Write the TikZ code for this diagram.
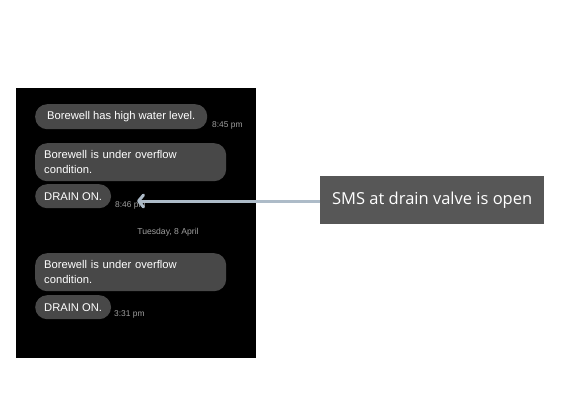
\documentclass[tikz,border=0pt]{standalone}
\usepackage{fontspec}
\setmainfont{Liberation Sans}
\newfontfamily\calloutfont{Open Sans}
\usetikzlibrary{arrows.meta}
\definecolor{bubblegray}{HTML}{484848}
\definecolor{timegray}{HTML}{A0A0A0}
\definecolor{calloutgray}{HTML}{575757}
\definecolor{arrowblue}{HTML}{ADBBC8}
\tikzset{
  bubble/.style={fill=bubblegray, rounded corners=12pt, anchor=north west, inner xsep=9pt, inner ysep=0pt,
    align=left, text=white, font=\fontsize{11.2}{15}\selectfont},
  timelbl/.style={anchor=base west, text=timegray, inner sep=0pt, font=\fontsize{8.4}{9}\selectfont},
  datelbl/.style={anchor=base, text=timegray, inner sep=0pt, font=\fontsize{8.6}{9}\selectfont},
  callout/.style={fill=calloutgray, text=white, anchor=north west, minimum width=224pt, minimum height=48pt,
    inner sep=0pt, font=\calloutfont\fontsize{16.5}{19}\selectfont},
  pointer/.style={draw=arrowblue, line width=3pt, -{Straight Barb[length=5pt,width=12pt,round]}}
}
\begin{document}
\begin{tikzpicture}[x=1pt,y=-1pt]
\useasboundingbox (0,0) rectangle (576,416);
\fill[white] (0,0) rectangle (576,416);
\node[fill=black, anchor=north west, minimum width=240pt, minimum height=270pt, inner sep=0pt] (panel) at (16,88) {};
\node[bubble, minimum width=172pt, minimum height=25pt] (b1) at (35,104) {Borewell has high water level.};
\node[timelbl] (t1) at (212,127) {8:45 pm};
\node[bubble, text width=173pt, minimum height=38pt] (b2) at (35,143) {Borewell is under overflow\\condition.};
\node[bubble, minimum width=75pt, minimum height=24pt] (b3) at (35,184) {DRAIN ON.};
\node[timelbl] (t2) at (115,207) {8:46 pm};
\node[datelbl] (d1) at (168,234) {Tuesday, 8 April};
\node[bubble, text width=173pt, minimum height=38pt] (b4) at (35,253) {Borewell is under overflow\\condition.};
\node[bubble, minimum width=75pt, minimum height=24pt] (b5) at (35,295) {DRAIN ON.};
\node[timelbl] (t3) at (114,316) {3:31 pm};
\node[callout] (c1) at (320,176) {SMS at drain valve is open};
\coordinate (tip) at (137,201);
\draw[pointer] (c1.west |- tip) -- (tip);
\end{tikzpicture}
\end{document}
